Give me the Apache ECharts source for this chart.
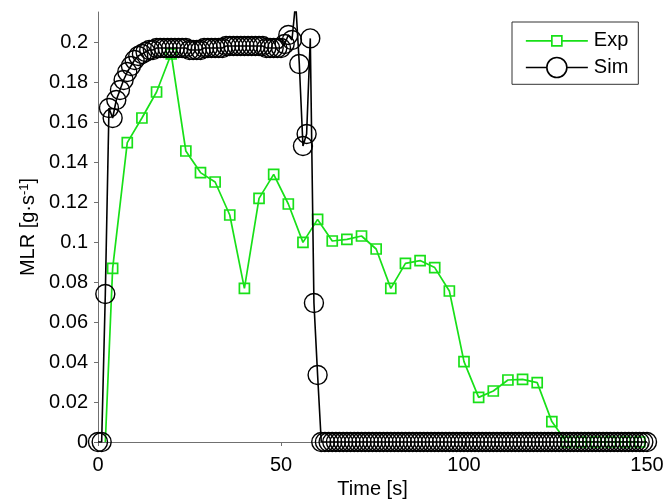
<!DOCTYPE html>
<html>
<head>
<meta charset="utf-8">
<script src="https://cdn.jsdelivr.net/npm/echarts@6/dist/echarts.min.js"></script>
<style>
html,body{margin:0;padding:0;background:#fff;}
#chart{width:664px;height:499px;}
</style>
</head>
<body>
<div id="chart"></div>
<script>
// ---- data ----
var expTime = [2, 4, 8, 12, 16, 20, 24, 28, 32, 36, 40, 44, 48, 52, 56, 60, 64, 68, 72, 76, 80, 84, 88, 92, 96, 100, 104, 108, 112, 116, 120, 124, 128, 132, 136, 140, 144, 148];
var expMLR = [0, 0.0868, 0.1497, 0.162, 0.175, 0.194, 0.1455, 0.1347, 0.130, 0.1135, 0.0768, 0.1218, 0.1338, 0.119, 0.0998, 0.1113, 0.1005, 0.1013, 0.103, 0.0965, 0.0768, 0.0893, 0.0907, 0.0872, 0.0755, 0.0402, 0.0223, 0.0255, 0.031, 0.0313, 0.0297, 0.0102, 0, 0, 0, 0, 0, 0];

var simTime = [0,1,2,3,4,5,6,7,8,9,10,11,12,13,14,15,16,17,18,19,20,21,22,23,24,25,26,27,28,29,30,31,32,33,34,35,36,37,38,39,40,41,42,43,44,45,46,47,48,49,50,51,52,53,54,55,56,57,58,59,60,61,62,63,64,65,66,67,68,69,70,71,72,73,74,75,76,77,78,79,80,81,82,83,84,85,86,87,88,89,90,91,92,93,94,95,96,97,98,99,100,101,102,103,104,105,106,107,108,109,110,111,112,113,114,115,116,117,118,119,120,121,122,123,124,125,126,127,128,129,130,131,132,133,134,135,136,137,138,139,140,141,142,143,144,145,146,147,148,149,150];
var simMLR = [0, 0, 0.074, 0.167, 0.162, 0.171, 0.176, 0.181, 0.185, 0.188, 0.191, 0.193, 0.194, 0.195, 0.196, 0.196, 0.197,
  0.197, 0.197, 0.197, 0.197, 0.197, 0.197, 0.197, 0.197, 0.196, 0.196, 0.196, 0.196, 0.197, 0.197, 0.197, 0.197, 0.197,
  0.197, 0.198, 0.198, 0.198, 0.198, 0.198, 0.198, 0.198, 0.198, 0.198, 0.198, 0.198, 0.197, 0.197, 0.197, 0.197, 0.197,
  0.199, 0.2035, 0.201, 0.22, 0.189, 0.148, 0.154, 0.2018, 0.0695, 0.0335,
  0, 0, 0, 0, 0, 0, 0, 0, 0, 0, 0, 0, 0, 0, 0, 0, 0, 0, 0, 0, 0, 0, 0, 0, 0, 0, 0, 0, 0, 0,
  0, 0, 0, 0, 0, 0, 0, 0, 0, 0, 0, 0, 0, 0, 0, 0, 0, 0, 0, 0, 0, 0, 0, 0, 0, 0, 0, 0, 0, 0,
  0, 0, 0, 0, 0, 0, 0, 0, 0, 0, 0, 0, 0, 0, 0, 0, 0, 0, 0, 0, 0, 0, 0, 0, 0, 0, 0, 0, 0, 0];

var yTicks = [0, 0.02, 0.04, 0.06, 0.08, 0.1, 0.12, 0.14, 0.16, 0.18, 0.2];
var xTicks = [0, 50, 100, 150];

var seriesNames = ['Exp', 'Sim'];
var xTitle = 'Time [s]';
var yTitle = 'MLR [g·s{sup|-1}]';

// ---- chart ----
function pairs(xs, ys) { var out = []; for (var i = 0; i < xs.length; i++) out.push([xs[i], ys[i]]); return out; }
// the first experimental point (onset at zero) carries no visible marker in the reference
var expData = pairs(expTime, expMLR).map(function (p, i) { return i === 0 ? {value: p, symbol: 'none'} : p; });

var GREEN = '#18e018';
var FONT = '"Liberation Sans", Arial, sans-serif';

var chart = echarts.init(document.getElementById('chart'), null, {renderer: 'canvas'});
chart.setOption({
  animation: false,
  backgroundColor: '#fff',
  textStyle: {fontFamily: FONT, color: '#000'},
  grid: {left: 98, right: 17, top: 12, bottom: 57, containLabel: false, outerBoundsMode: 'none'},
  legend: {
    orient: 'vertical',
    left: 512, top: 22,
    padding: [8, 10, 6, 13],
    itemGap: 5,
    itemWidth: 62,
    itemHeight: 20,
    borderColor: '#333',
    borderWidth: 1,
    backgroundColor: '#fff',
    textStyle: {fontSize: 20, color: '#000', fontFamily: FONT, padding: [0, 0, 0, 1]},
    selectedMode: false,
    data: [
      {name: seriesNames[0], icon: 'path://M0 0 M62 20 M0 10 L26 10 M26 5 L36 5 L36 15 L26 15 Z M36 10 L62 10',
        itemStyle: {color: 'rgba(0,0,0,0)', borderColor: GREEN, borderWidth: 1.7}},
      {name: seriesNames[1], icon: 'path://M0 0 M62 20 M0 10 L21 10 A10 10 0 1 1 41 10 A10 10 0 1 1 21 10 M41 10 L62 10',
        itemStyle: {color: 'rgba(0,0,0,0)', borderColor: '#000', borderWidth: 1.6}}
    ]
  },
  xAxis: {
    type: 'value', min: 0, max: 150, interval: 50,
    name: xTitle, nameLocation: 'middle', nameGap: 36,
    nameTextStyle: {fontSize: 20, color: '#000', fontFamily: FONT},
    axisLine: {show: true, onZero: false, lineStyle: {color: '#707070', width: 1}},
    axisTick: {show: true, inside: false, length: 4, lineStyle: {color: '#707070'}, customValues: xTicks},
    axisLabel: {fontSize: 20, color: '#000', margin: 13, fontFamily: FONT, customValues: xTicks},
    splitLine: {show: false}
  },
  yAxis: {
    type: 'value', min: 0, max: 0.215,
    name: yTitle, nameLocation: 'middle', nameGap: 59, nameRotate: 90,
    nameTextStyle: {fontSize: 20, color: '#000', fontFamily: FONT,
      rich: {sup: {fontSize: 13, verticalAlign: 'top', padding: [0, 0, 4, 0], fontFamily: FONT, color: '#000'}}},
    axisLine: {show: true, onZero: false, lineStyle: {color: '#707070', width: 1}},
    axisTick: {show: true, inside: false, length: 4, lineStyle: {color: '#707070'}, customValues: yTicks},
    axisLabel: {fontSize: 20, color: '#000', margin: 10, fontFamily: FONT, customValues: yTicks,
      formatter: function (v) { return String(parseFloat(Number(v).toFixed(4))); }},
    splitLine: {show: false}
  },
  series: [
    {
      name: seriesNames[0], type: 'line', data: expData,
      symbol: 'rect', symbolSize: 10, showAllSymbol: true, clip: true,
      lineStyle: {color: GREEN, width: 1.7},
      itemStyle: {color: 'rgba(0,0,0,0)', borderColor: GREEN, borderWidth: 1.7},
      emphasis: {disabled: true}, z: 2
    },
    {
      name: seriesNames[1], type: 'line', data: pairs(simTime, simMLR),
      symbol: 'circle', symbolSize: 19, showAllSymbol: true, clip: true,
      lineStyle: {color: '#000', width: 1.6},
      itemStyle: {color: 'rgba(0,0,0,0)', borderColor: '#000', borderWidth: 1.4},
      emphasis: {disabled: true}, z: 3
    }
  ]
});
</script>
</body>
</html>
